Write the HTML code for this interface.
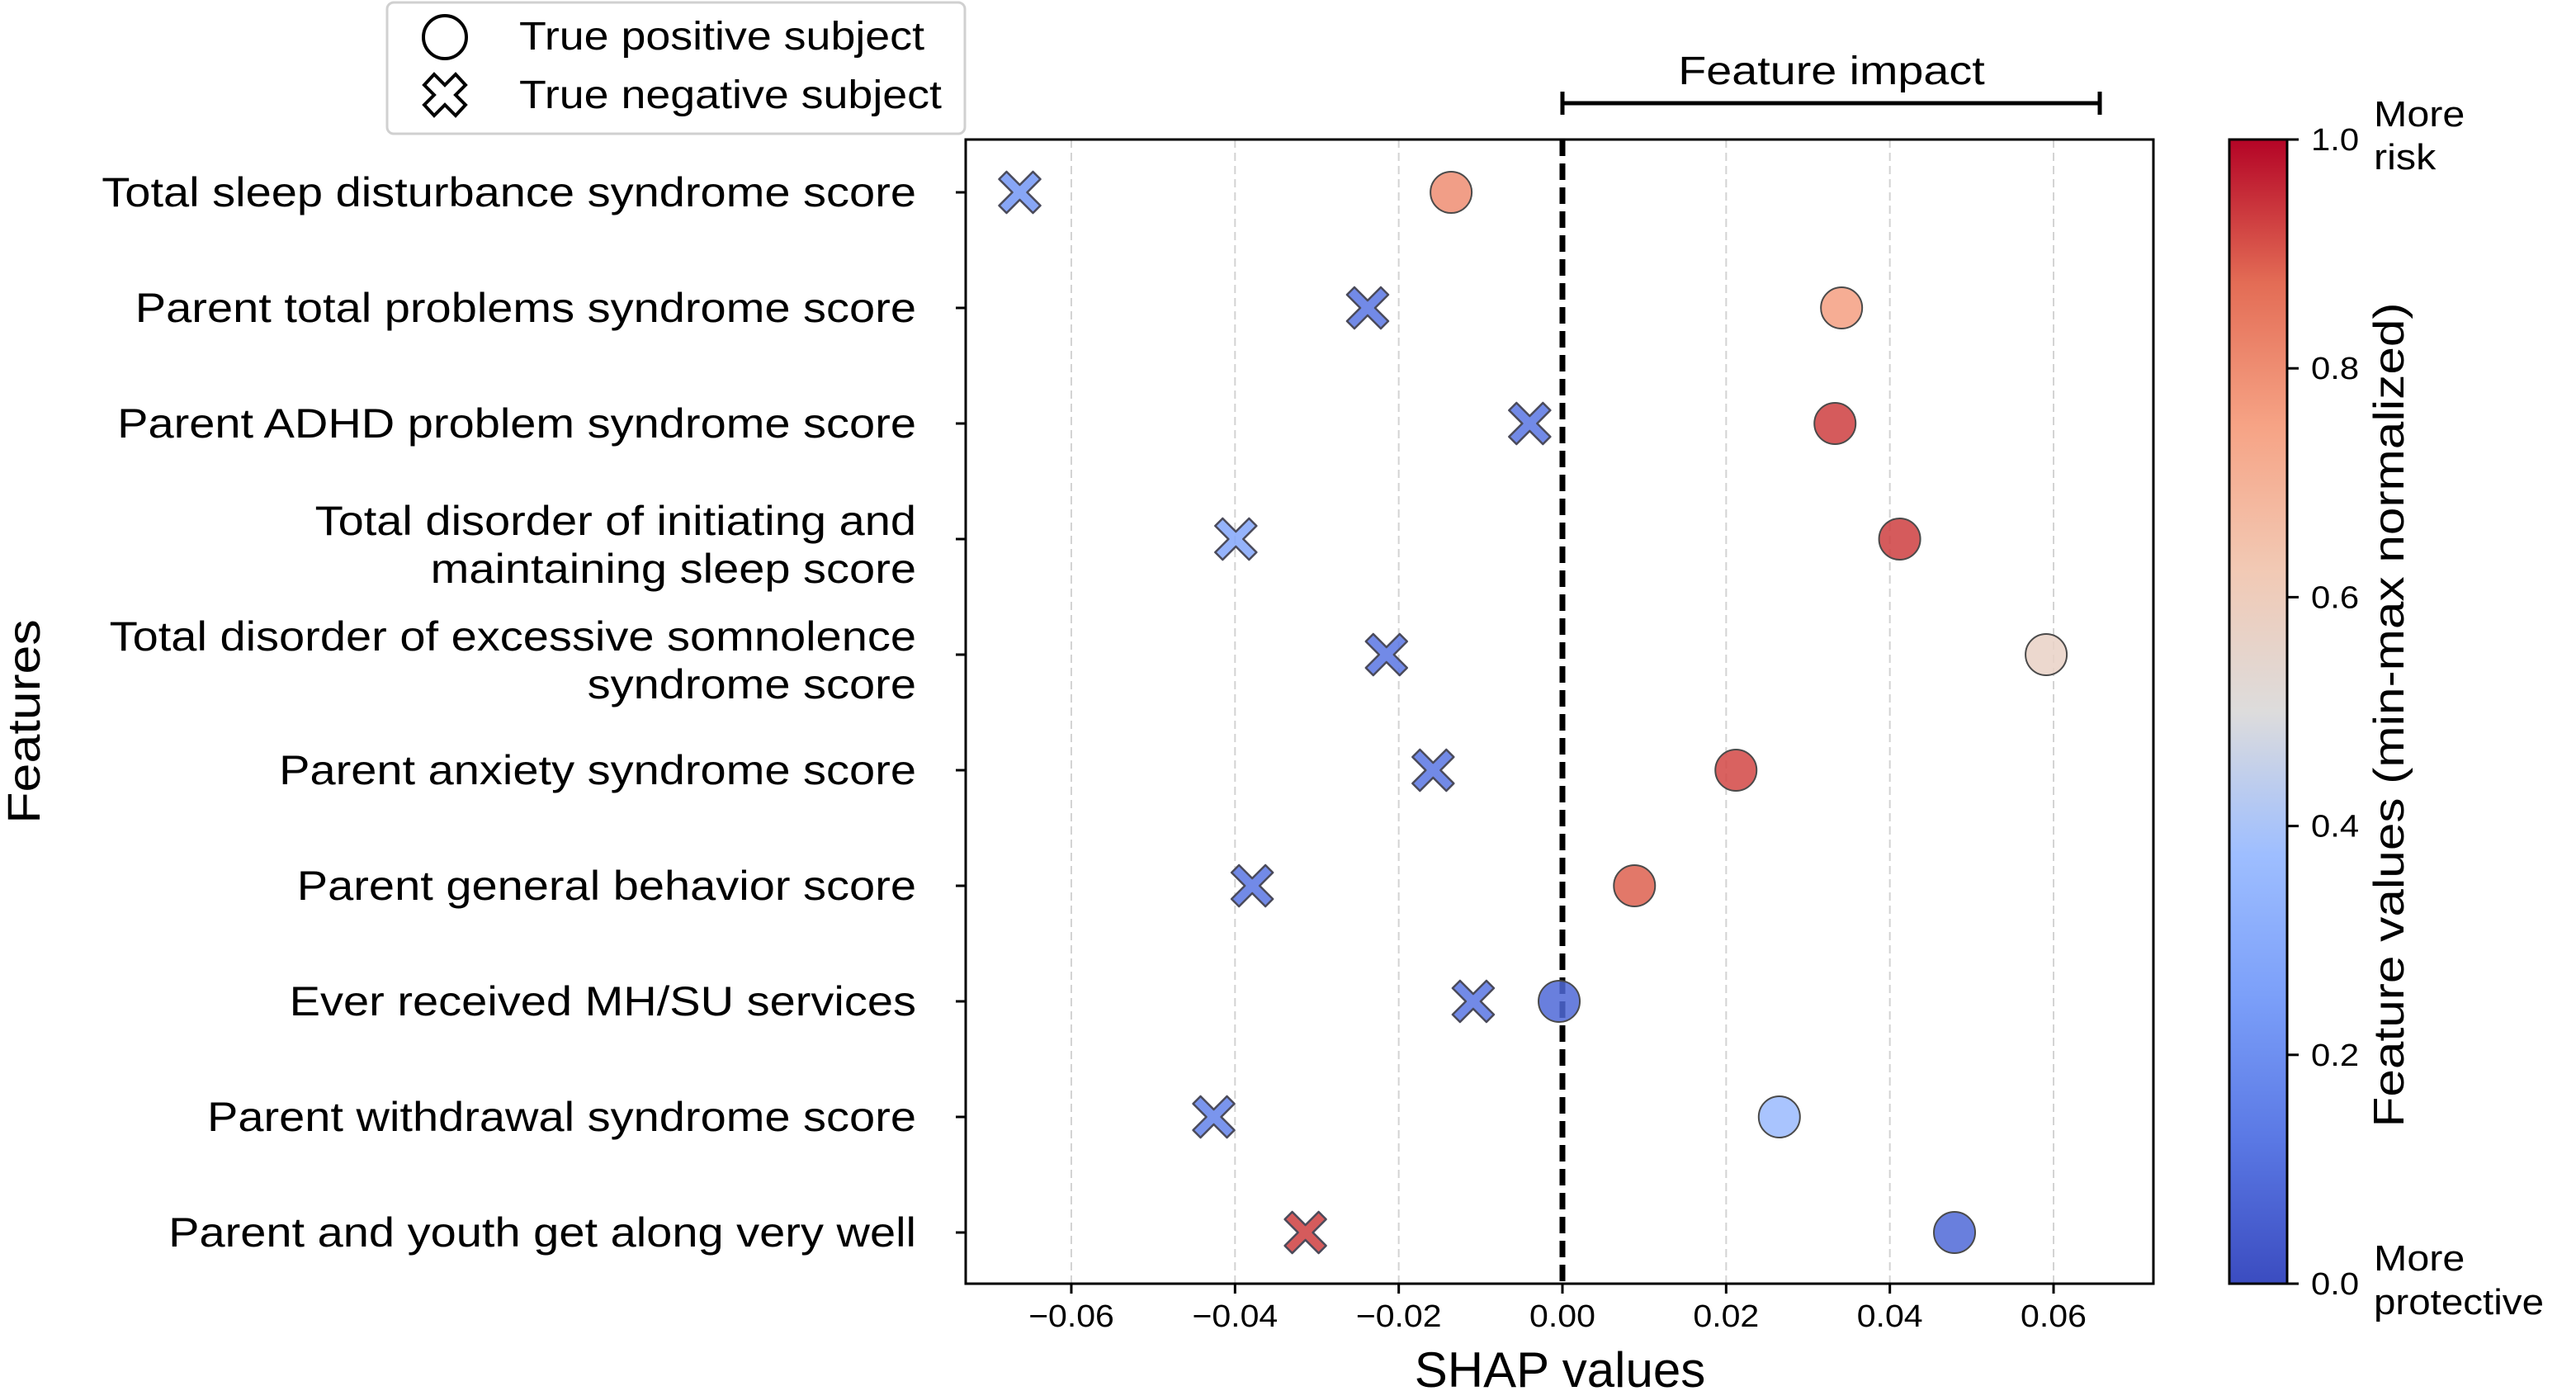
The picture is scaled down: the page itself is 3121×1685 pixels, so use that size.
<!DOCTYPE html>
<html><head><meta charset="utf-8"><style>
html,body{margin:0;padding:0;background:#fff;}
svg{display:block;font-family:"Liberation Sans",sans-serif;}
</style></head><body>
<svg id="chart" width="3121" height="1685" viewBox="0 0 3121 1685" xmlns="http://www.w3.org/2000/svg">
<defs>
<linearGradient id="cw" x1="0" y1="1" x2="0" y2="0">
<stop offset="0" stop-color="#3b4cc0"/><stop offset="0.125" stop-color="#5a78e4"/><stop offset="0.25" stop-color="#7b9ff9"/><stop offset="0.375" stop-color="#9ebeff"/><stop offset="0.5" stop-color="#dddcdc"/><stop offset="0.625" stop-color="#f2c9b4"/><stop offset="0.75" stop-color="#f6a385"/><stop offset="0.875" stop-color="#e36c55"/><stop offset="1" stop-color="#b40426"/>
</linearGradient>
</defs>
<g id="grid"></g>
<g id="marks"></g>
<rect x="1170" y="169" width="1439" height="1386" fill="none" stroke="#000" stroke-width="3"/>
<g id="xaxis"></g>
<g id="yaxis"></g>
<text x="1890" y="1680" font-size="60" text-anchor="middle" data-w="1.0">SHAP values</text>
<text transform="translate(48,874) rotate(-90)" font-size="56" text-anchor="middle" data-w="1.12">Features</text>
<g>
<line x1="1893" y1="125" x2="2544" y2="125" stroke="#000" stroke-width="5"/>
<line x1="1893" y1="111" x2="1893" y2="139" stroke="#000" stroke-width="5"/>
<line x1="2544" y1="111" x2="2544" y2="139" stroke="#000" stroke-width="5"/>
<text x="2219" y="102" font-size="48" text-anchor="middle" data-w="1.16">Feature impact</text>
</g>
<g>
<rect x="469" y="3" width="700" height="159" rx="8" fill="#fff" stroke="#d0d0d0" stroke-width="3"/>
<ellipse cx="539" cy="45" rx="26" ry="26" fill="none" stroke="#000" stroke-width="4"/>
<text x="629" y="60" font-size="48" data-w="1.12">True positive subject</text>
<polygon points="539,103 552,90 564,103 552,115 564,127 552,140 539,127 526,140 514,127 526,115 514,103 526,90" fill="none" stroke="#000" stroke-width="4"/>
<text x="629" y="131" font-size="48" data-w="1.12">True negative subject</text>
</g>
<g>
<rect x="2701" y="169" width="70" height="1386" fill="url(#cw)" stroke="#000" stroke-width="3"/>
<g id="cbticks"></g>
<text x="2876" y="153" font-size="44" data-w="1.1">More</text>
<text x="2876" y="205" font-size="44" data-w="1.1">risk</text>
<text x="2876" y="1539" font-size="44" data-w="1.1">More</text>
<text x="2876" y="1592" font-size="44" data-w="1.08">protective</text>
<text transform="translate(2912,866) rotate(-90)" font-size="52" text-anchor="middle" data-w="1.16">Feature values (min-max normalized)</text>
</g>
</svg>
<script>
const features = [["Total sleep disturbance syndrome score"],["Parent total problems syndrome score"],["Parent ADHD problem syndrome score"],["Total disorder of initiating and","maintaining sleep score"],["Total disorder of excessive somnolence","syndrome score"],["Parent anxiety syndrome score"],["Parent general behavior score"],["Ever received MH/SU services"],["Parent withdrawal syndrome score"],["Parent and youth get along very well"]];
const negShap = [-0.0663,-0.0238,-0.0040,-0.0399,-0.0215,-0.0158,-0.0379,-0.0109,-0.0426,-0.0314];
const negVal = [0.22,0.12,0.12,0.28,0.12,0.12,0.12,0.12,0.16,0.93];
const posShap = [-0.0136,0.0341,0.0333,0.0412,0.0591,0.0212,0.0088,-0.0004,0.0265,0.0479];
const posVal = [0.80,0.76,0.93,0.93,0.57,0.92,0.89,0.08,0.36,0.08];
const xTicks = [-0.06,-0.04,-0.02,0.00,0.02,0.04,0.06];
const xTickLabels = ["\u22120.06","\u22120.04","\u22120.02","0.00","0.02","0.04","0.06"];
const cbTicks = [0,0.2,0.4,0.6,0.8,1.0];
const cbTickLabels = ["0.0","0.2","0.4","0.6","0.8","1.0"];

const NS="http://www.w3.org/2000/svg";
const X0=1893, XS=9917, Y0=233, YS=140, CBTOP=169, CBBOT=1555, PT=169, PB=1555;
const xs=v=>X0+v*XS, ys=i=>Y0+i*YS, cby=v=>CBBOT-v*(CBBOT-CBTOP);
const stops=[[59,76,192],[90,120,228],[123,159,249],[158,190,255],[221,220,220],[242,201,180],[246,163,133],[227,108,85],[180,4,38]];
function cw(t){t=Math.max(0,Math.min(1,t));const p=t*8,i=Math.min(7,Math.floor(p)),f=p-i;const a=stops[i],b=stops[i+1];return `rgb(${a.map((c,k)=>Math.round(c+(b[k]-c)*f)).join(",")})`;}
function mk(tag,attrs,parent){const e=document.createElementNS(NS,tag);for(const k in attrs)e.setAttribute(k,attrs[k]);parent.appendChild(e);return e;}
const grid=document.getElementById('grid'),xa=document.getElementById('xaxis'),ya=document.getElementById('yaxis'),marks=document.getElementById('marks'),cbt=document.getElementById('cbticks');
xTicks.forEach((t,i)=>{
  if(t!==0){const g=mk('line',{x1:xs(t),x2:xs(t),y1:PT,y2:PB,stroke:'#d3d3d3','stroke-width':2,'stroke-dasharray':'10,6'},grid);
  
  }
  const tk=mk('line',{x1:xs(t),x2:xs(t),y1:PB,y2:PB+12,stroke:'#000','stroke-width':3},xa);
  
  
  const lb=mk('text',{x:xs(t),y:PB+52,'font-size':38,'text-anchor':'middle','data-w':1.08},xa);lb.textContent=xTickLabels[i];
  
  
});
const zl=mk('line',{x1:X0,x2:X0,y1:PT,y2:PB,stroke:'#000','stroke-width':7,'stroke-dasharray':'20,9'},grid);


features.forEach((f,i)=>{
  const y=ys(i);
  const tk=mk('line',{x1:1158,x2:1170,y1:y,y2:y,stroke:'#000','stroke-width':3},ya);
  
  
  f.forEach((ln,j)=>{
    const off=f.length===1?17:(j===0?-5:53);
    const t=mk('text',{x:1110,y:y+off,'font-size':50,'text-anchor':'end','data-w':1.12},ya);t.textContent=ln;
    
    
  });
  const cx=xs(negShap[i]),s=25,w=9;
  const pts=[[-s+w,-s],[0,-w],[s-w,-s],[s,-s+w],[w,0],[s,s-w],[s-w,s],[0,w],[-s+w,s],[-s,s-w],[-w,0],[-s,-s+w]].map(p=>(cx+p[0])+','+(y+p[1])).join(' ');
  const xm=mk('polygon',{points:pts,fill:cw(negVal[i]),'fill-opacity':0.85,stroke:'#4a4a5a','stroke-width':2.5,'stroke-linejoin':'round'},marks);
  
  
  const c=mk('circle',{cx:xs(posShap[i]),cy:y,r:25,fill:cw(posVal[i]),'fill-opacity':0.85,stroke:'#4a4a4a','stroke-width':2},marks);
  
  
});
cbTicks.forEach((t,i)=>{
  const y=cby(t);
  const tk=mk('line',{x1:2771,x2:2785,y1:y,y2:y,stroke:'#000','stroke-width':3},cbt);
  
  
  const lb=mk('text',{x:2800,y:y+13,'font-size':38,'data-w':1.1},cbt);lb.textContent=cbTickLabels[i];
  
  
});
document.querySelectorAll('text[data-w]').forEach(t=>{
  const f=parseFloat(t.getAttribute('data-w'));
  if(f!==1){const L=t.getComputedTextLength();
    t.setAttribute('textLength',(L*f).toFixed(1));
    t.setAttribute('lengthAdjust','spacingAndGlyphs');}
});
</script>
</body></html>
